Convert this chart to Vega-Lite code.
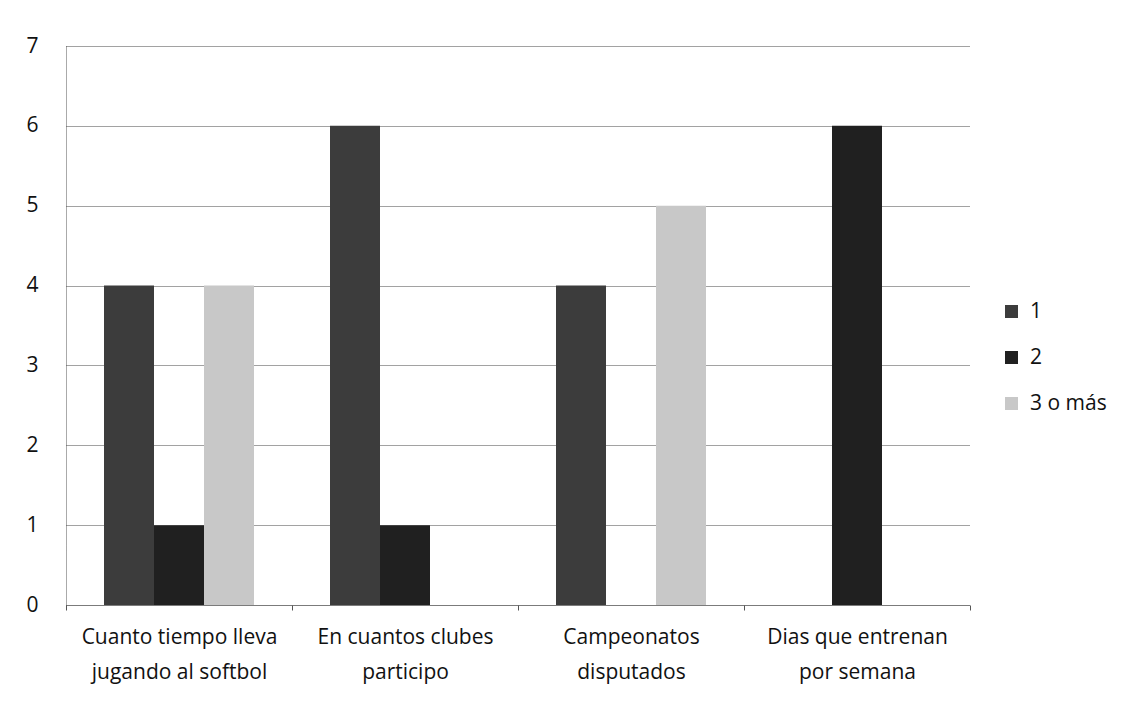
{
  "$schema": "https://vega.github.io/schema/vega-lite/v6.json",
  "width": 904,
  "height": 559,
  "autosize": "none",
  "padding": {"left": 66, "top": 46, "right": 170, "bottom": 103},
  "background": "white",
  "data": {
    "values": [
      {"pregunta": "Cuanto tiempo lleva jugando al softbol", "respuesta": "1", "n": 4},
      {"pregunta": "Cuanto tiempo lleva jugando al softbol", "respuesta": "2", "n": 1},
      {"pregunta": "Cuanto tiempo lleva jugando al softbol", "respuesta": "3 o más", "n": 4},
      {"pregunta": "En cuantos clubes participo", "respuesta": "1", "n": 6},
      {"pregunta": "En cuantos clubes participo", "respuesta": "2", "n": 1},
      {"pregunta": "En cuantos clubes participo", "respuesta": "3 o más", "n": 0},
      {"pregunta": "Campeonatos disputados", "respuesta": "1", "n": 4},
      {"pregunta": "Campeonatos disputados", "respuesta": "2", "n": 0},
      {"pregunta": "Campeonatos disputados", "respuesta": "3 o más", "n": 5},
      {"pregunta": "Dias que entrenan por semana", "respuesta": "1", "n": 0},
      {"pregunta": "Dias que entrenan por semana", "respuesta": "2", "n": 6},
      {"pregunta": "Dias que entrenan por semana", "respuesta": "3 o más", "n": 0}
    ]
  },
  "mark": {"type": "bar"},
  "encoding": {
    "x": {
      "field": "pregunta",
      "type": "nominal",
      "sort": null,
      "scale": {"paddingInner": 0, "paddingOuter": 0},
      "axis": {
        "title": null,
        "labelAngle": 0,
        "tickBand": "extent",
        "domainColor": "#555",
        "domainDash": [1, 1],
        "tickColor": "#555",
        "tickSize": 5,
        "labelPadding": 16,
        "labelLimit": 400,
        "labelFont": "Open Sans",
        "labelFontSize": 21,
        "labelColor": "#111",
        "labelLineHeight": 35,
        "labelExpr": "datum.label == 'Cuanto tiempo lleva jugando al softbol' ? ['Cuanto tiempo lleva', 'jugando al softbol'] : datum.label == 'En cuantos clubes participo' ? ['En cuantos clubes', 'participo'] : datum.label == 'Campeonatos disputados' ? ['Campeonatos', 'disputados'] : datum.label == 'Dias que entrenan por semana' ? ['Dias que entrenan', 'por semana'] : ''"
      }
    },
    "xOffset": {
      "field": "respuesta",
      "type": "nominal",
      "scale": {"paddingInner": 0, "paddingOuter": 0.76}
    },
    "y": {
      "field": "n",
      "type": "quantitative",
      "scale": {"domain": [0, 7], "nice": false},
      "axis": {
        "title": null,
        "values": [0, 1, 2, 3, 4, 5, 6, 7],
        "labelOverlap": false,
        "grid": true,
        "gridColor": "#444",
        "gridDash": [1, 1],
        "domainColor": "#555",
        "domainDash": [1, 1],
        "ticks": false,
        "labelPadding": 28,
        "labelFont": "Open Sans",
        "labelFontSize": 21,
        "labelColor": "#111"
      }
    },
    "color": {
      "field": "respuesta",
      "type": "nominal",
      "scale": {"domain": ["1", "2", "3 o más"], "range": ["#3c3c3c", "#202020", "#c8c8c8"]},
      "legend": {
        "title": null,
        "orient": "none",
        "legendX": 935,
        "legendY": 255,
        "symbolType": "square",
        "symbolSize": 170,
        "symbolStrokeWidth": 0,
        "labelFont": "Open Sans",
        "labelFontSize": 21,
        "labelColor": "#111",
        "rowPadding": 24,
        "labelOffset": 8
      }
    }
  },
  "config": {"view": {"stroke": null}}
}
